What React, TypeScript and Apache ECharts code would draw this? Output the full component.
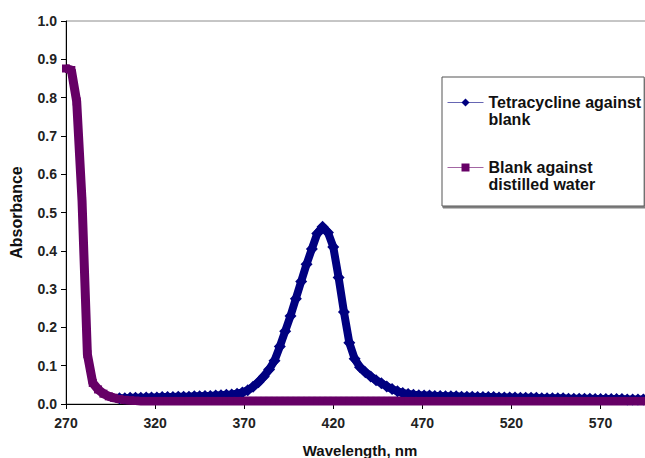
import { useEffect, useRef } from "react";
import * as echarts from "echarts";

// Wavelength grid (nm)
const wavelengths = [
  270, 273, 276, 279, 282, 285, 288, 291, 294, 297,
  300, 303, 306, 309, 312, 315, 318, 321, 324, 327,
  330, 333, 336, 339, 342, 345, 348, 351, 354, 357,
  360, 363, 366, 369, 372, 375, 378, 381, 384, 387,
  390, 393, 396, 399, 402, 405, 408, 411, 414, 417,
  420, 423, 426, 429, 432, 435, 438, 441, 444, 447,
  450, 453, 456, 459, 462, 465, 468, 471, 474, 477,
  480, 483, 486, 489, 492, 495, 498, 501, 504, 507,
  510, 513, 516, 519, 522, 525, 528, 531, 534, 537,
  540, 543, 546, 549, 552, 555, 558, 561, 564, 567,
  570, 573, 576, 579, 582, 585, 588, 591, 594, 597,
  600,
];

// Tetracycline against blank
const tetracycline = [
  null, null, null, null, null, null, null, null, null, null,
  0.015, 0.015, 0.016, 0.016, 0.016, 0.017, 0.017, 0.017, 0.018, 0.018,
  0.018, 0.019, 0.019, 0.019, 0.02, 0.02, 0.021, 0.021, 0.022, 0.023,
  0.024, 0.025, 0.027, 0.03, 0.036, 0.045, 0.057, 0.072, 0.09, 0.113,
  0.15, 0.19, 0.23, 0.275, 0.32, 0.365, 0.405, 0.445, 0.463, 0.448,
  0.41, 0.33, 0.24, 0.16, 0.118, 0.096, 0.083, 0.072, 0.062, 0.054,
  0.046, 0.039, 0.033, 0.029, 0.026, 0.024, 0.023, 0.022, 0.022, 0.021,
  0.021, 0.02, 0.02, 0.02, 0.019, 0.019, 0.019, 0.018, 0.018, 0.018,
  0.018, 0.017, 0.017, 0.017, 0.017, 0.016, 0.016, 0.016, 0.016, 0.015,
  0.015, 0.015, 0.015, 0.015, 0.014, 0.014, 0.014, 0.014, 0.014, 0.013,
  0.013, 0.013, 0.013, 0.013, 0.013, 0.012, 0.012, 0.012, 0.012, 0.012,
  0.012,
];

// Blank against distilled water
const blank = [
  0.876, 0.872, 0.79, 0.53, 0.13, 0.055, 0.038, 0.027, 0.02, 0.016,
  0.013, 0.011, 0.01, 0.009, 0.008, 0.008, 0.008, 0.008, 0.008, 0.008,
  0.008, 0.008, 0.008, 0.008, 0.008, 0.008, 0.008, 0.008, 0.008, 0.008,
  0.008, 0.008, 0.008, 0.008, 0.008, 0.008, 0.008, 0.008, 0.008, 0.008,
  0.008, 0.008, 0.008, 0.008, 0.008, 0.008, 0.008, 0.008, 0.008, 0.008,
  0.008, 0.008, 0.008, 0.008, 0.008, 0.008, 0.008, 0.008, 0.008, 0.008,
  0.008, 0.008, 0.008, 0.008, 0.008, 0.008, 0.008, 0.008, 0.008, 0.008,
  0.008, 0.008, 0.008, 0.008, 0.008, 0.008, 0.008, 0.008, 0.008, 0.008,
  0.008, 0.008, 0.008, 0.008, 0.008, 0.008, 0.008, 0.008, 0.008, 0.008,
  0.008, 0.008, 0.008, 0.008, 0.008, 0.008, 0.008, 0.008, 0.008, 0.008,
  0.008, 0.008, 0.008, 0.008, 0.008, 0.008, 0.008, 0.008, 0.008, 0.008,
  0.008,
];

const seriesNames = ["Tetracycline against blank", "Blank against distilled water"];
// leading blank line keeps the legend symbol level with the first text line
const legendLines = [" \nTetracycline against\nblank", " \nBlank against\ndistilled water"];

const FONT = "'Liberation Sans', Arial, sans-serif";
const NARROW = "'Liberation Sans Narrow', 'Liberation Sans', Arial, sans-serif";

export default function App() {
  const ref = useRef<HTMLDivElement>(null);

  useEffect(() => {
    if (!ref.current) return;
    const chart = echarts.init(ref.current, null, { renderer: "svg" });
    const toPairs = (vals: (number | null)[]) =>
      wavelengths.map((w, i) => [w, vals[i]]).filter((p) => p[1] !== null);

    chart.setOption({
      animation: false,
      backgroundColor: "#ffffff",
      textStyle: { fontFamily: FONT },
      grid: {
        left: 66,
        right: -9,
        top: 21,
        bottom: 54,
        containLabel: false,
        outerBoundsMode: "none",
        show: true,
        borderColor: "#8c8c8c",
        borderWidth: 1,
        backgroundColor: "transparent",
      },
      legend: {
        orient: "vertical",
        left: 442,
        top: 77,
        padding: [0, 3, 13, 5],
        itemGap: 14,
        itemWidth: 36,
        itemHeight: 10,
        backgroundColor: "#ffffff",
        borderColor: "#555555",
        borderWidth: 1,
        shadowColor: "rgba(0,0,0,0.5)",
        shadowBlur: 1,
        shadowOffsetX: 1,
        shadowOffsetY: 2,
        data: seriesNames,
        formatter: (name: string) => legendLines[seriesNames.indexOf(name)],
        lineStyle: { width: 1, opacity: 0.6 },
        textStyle: {
          fontFamily: FONT,
          fontSize: 16,
          fontWeight: "bold",
          color: "#111111",
          lineHeight: 17,
        },
      },
      xAxis: {
        type: "value",
        min: 270,
        max: 600,
        interval: 50,
        name: "Wavelength, nm",
        nameLocation: "middle",
        nameGap: 39,
        nameTextStyle: { fontFamily: FONT, fontSize: 15, fontWeight: "bold", color: "#111111" },
        axisLine: { onZero: false, lineStyle: { color: "#000000", width: 1 } },
        axisTick: { show: true, inside: false, length: 5, lineStyle: { color: "#000000" } },
        axisLabel: {
          margin: 12,
          fontFamily: NARROW,
          fontSize: 14,
          fontWeight: "bold",
          color: "#222222",
          showMaxLabel: false,
        },
        splitLine: { show: false },
      },
      yAxis: {
        type: "value",
        min: 0,
        max: 1,
        interval: 0.1,
        name: "Absorbance",
        nameLocation: "middle",
        nameGap: 42,
        nameRotate: 90,
        nameTextStyle: { fontFamily: FONT, fontSize: 16, fontWeight: "bold", color: "#111111" },
        axisLine: { show: true, onZero: false, lineStyle: { color: "#000000", width: 1 } },
        axisTick: { show: true, inside: false, length: 5, lineStyle: { color: "#000000" } },
        axisLabel: {
          margin: 9,
          fontFamily: NARROW,
          fontSize: 14,
          fontWeight: "bold",
          color: "#222222",
          formatter: (v: number) => v.toFixed(1),
        },
        splitLine: { show: false },
      },
      series: [
        {
          name: seriesNames[0],
          type: "line",
          data: toPairs(tetracycline),
          symbol: "diamond",
          symbolSize: 12,
          showAllSymbol: true,
          itemStyle: { color: "#000080" },
          lineStyle: { color: "#000080", width: 8 },
        },
        {
          name: seriesNames[1],
          type: "line",
          data: toPairs(blank),
          symbol: "rect",
          symbolSize: 8,
          showAllSymbol: true,
          itemStyle: { color: "#660066" },
          lineStyle: { color: "#660066", width: 9 },
        },
      ],
    });

    return () => chart.dispose();
  }, []);

  return (
    <div
      ref={ref}
      style={{ position: "fixed", left: 0, top: 0, width: 645, height: 458, background: "#fff" }}
    />
  );
}
